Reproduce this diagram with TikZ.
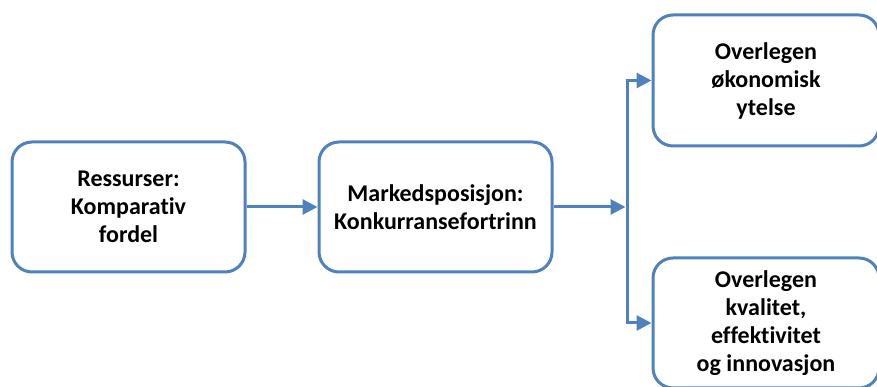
\documentclass[tikz,border=0pt]{standalone}
\usepackage{fontspec}
\setmainfont{Carlito}[Ligatures=NoCommon]
\usetikzlibrary{arrows.meta}
\definecolor{boxblue}{RGB}{79,129,189}
\tikzset{
  card/.style={draw=boxblue, line width=3pt, rounded corners=20pt, fill=white,
    align=center, font=\bfseries\fontsize{24}{28}\selectfont, inner sep=0pt},
  conn/.style={draw=boxblue, line width=3pt},
  tip/.style={-{Triangle[length=15pt,width=15pt]}}
}
\begin{document}
\begin{tikzpicture}[x=1pt,y=1pt]
\useasboundingbox (0,0) rectangle (877,387);
\node[card, minimum width=233pt, minimum height=130pt] (b1) at (128.5,180) {Ressurser:\\Komparativ\\fordel};
\node[card, minimum width=233pt, minimum height=130pt] (b2) at (435.5,180) {Markedsposisjon:\\Konkurransefortrinn};
\node[card, minimum width=226pt, minimum height=131pt] (b3) at (766,306.5) {Overlegen\\økonomisk\\ytelse};
\node[card, minimum width=226pt, minimum height=130pt] (b4) at (766,64) {Overlegen\\kvalitet,\\effektivitet\\og innovasjon};
\coordinate (j) at (627,180);
\coordinate (jt) at (627,306.5);
\coordinate (jb) at (627,64);
\draw[conn, tip] (b1.east) -- (b2.west);
\draw[conn, tip] (b2.east) -- ([xshift=-1.5pt]j);
\draw[conn] (jt) -- (jb);
\draw[conn, tip] ([xshift=-1.5pt]jt) -- (b3.west);
\draw[conn, tip] ([xshift=-1.5pt]jb) -- (b4.west);
\end{tikzpicture}
\end{document}
